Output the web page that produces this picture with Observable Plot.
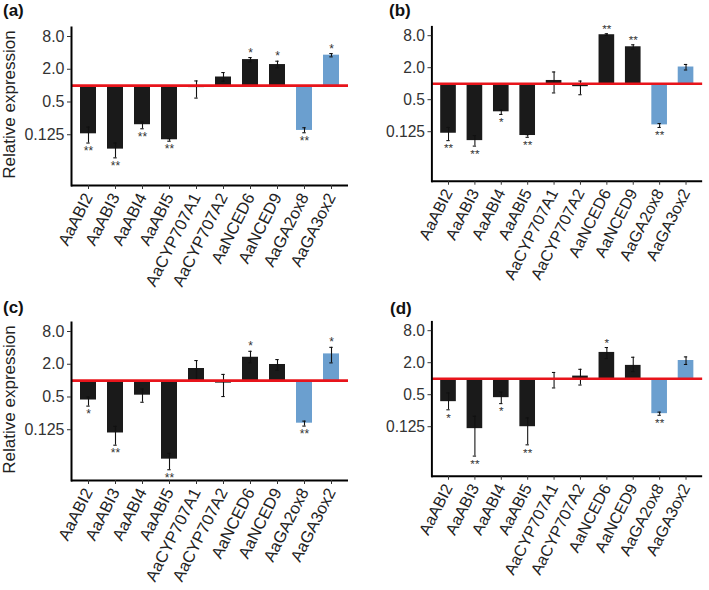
<!DOCTYPE html>
<html><head><meta charset="utf-8">
<script src="https://cdn.jsdelivr.net/npm/d3@7"></script>
<script src="https://cdn.jsdelivr.net/npm/@observablehq/plot@0.6"></script>
<style>
body{margin:0;background:#fff;}
#wrap{position:relative;width:709px;height:590px;overflow:hidden;font-family:"Liberation Sans",Arial,sans-serif;background:#fff;}
.panel{position:absolute;}
.letter{position:absolute;font-weight:bold;font-size:17px;color:#111;line-height:1;}
</style></head><body><div id="wrap"></div>
<script>
const genes = ["AaABI2","AaABI3","AaABI4","AaABI5","AaCYP707A1","AaCYP707A2","AaNCED6","AaNCED9","AaGA2ox8","AaGA3ox2"];
const groups = ["ABA","ABA","ABA","ABA","ABA","ABA","ABA","ABA","GA","GA"];
const yTicks = [0.125, 0.5, 2, 8];
const yTickLabels = ["0.125", "0.5", "2.0", "8.0"];
const yTitle = "Relative expression";

// Panel (a)
const valuesA = [0.130, 0.068, 0.191, 0.101, 0.92, 1.44, 3.01, 2.44, 0.150, 3.63];
const lowA    = [0.088, 0.047, 0.161, 0.095, 0.59, 1.20, 2.73, 2.12, 0.136, 3.38];
const highA   = [0.173, 0.088, 0.214, 0.106, 1.22, 1.74, 3.28, 2.81, 0.168, 3.89];
const starsA  = ["**","**","**","**","","","*","*","**","*"];

// Panel (b)
const valuesB = [0.117, 0.085, 0.296, 0.106, 1.15, 0.88, 8.34, 4.95, 0.168, 2.06];
const lowB    = [0.085, 0.067, 0.264, 0.098, 0.67, 0.62, 8.10, 4.48, 0.150, 1.81];
const highB   = [0.150, 0.106, 0.318, 0.110, 1.66, 1.12, 8.70, 5.39, 0.178, 2.30];
const starsB  = ["**","**","*","**","","","**","**","**",""];

// Panel (c)
const valuesC = [0.44, 0.109, 0.54, 0.036, 1.67, 0.90, 2.69, 1.98, 0.165, 3.10];
const lowC    = [0.34, 0.065, 0.40, 0.023, 1.01, 0.51, 2.12, 1.56, 0.146, 2.12];
const highC   = [0.50, 0.144, 0.70, 0.046, 2.34, 1.30, 3.46, 2.44, 0.180, 4.09];
const starsC  = ["*","**","","**","","","*","","**","*"];

// Panel (d)
const valuesD = [0.37, 0.115, 0.44, 0.125, 0.97, 1.12, 3.12, 1.78, 0.22, 2.20];
const lowD    = [0.26, 0.035, 0.34, 0.057, 0.67, 0.76, 2.39, 1.36, 0.205, 1.85];
const highD   = [0.54, 0.196, 0.56, 0.183, 1.31, 1.50, 3.86, 2.53, 0.235, 2.57];
const starsD  = ["*","**","*","**","","","*","","**",""];

const panels = [
  {letter:"(a)", values:valuesA, low:lowA, high:highA, stars:starsA, left:0,   top:0,   ylabel:true},
  {letter:"(b)", values:valuesB, low:lowB, high:highB, stars:starsB, left:362, top:0,   ylabel:false},
  {letter:"(c)", values:valuesC, low:lowC, high:highC, stars:starsC, left:0,   top:295, ylabel:true},
  {letter:"(d)", values:valuesD, low:lowD, high:highD, stars:starsD, left:362, top:295, ylabel:false}
];
const letterPos = [[3,2],[389,2],[3,299],[390,300]];

const wrap = document.getElementById("wrap");
const yMin = 2 ** -6.1, yMax = 2 ** 3.55;

panels.forEach((p, k) => {
  const data = genes.map((g, i) => ({gene:g, group:groups[i], value:p.values[i], lo:p.low[i], hi:p.high[i], star:p.stars[i]}));
  const up = data.filter(d => d.star && d.value >= 1);
  const down = data.filter(d => d.star && d.value < 1);
  const chart = Plot.plot({
    width: 355, height: 295,
    marginLeft: 71, marginRight: 7, marginTop: 27, marginBottom: 110,
    style: {fontFamily: "Liberation Sans, Arial, sans-serif", background: "transparent", color: "#333", overflow: "visible"},
    x: {type: "band", domain: genes, paddingInner: 0.4, paddingOuter: 0.31, label: null},
    y: {type: "log", base: 2, domain: [yMin, yMax], label: null},
    color: {domain: ["ABA", "GA"], range: ["#1a1a1a", "#6b9fcf"]},
    marks: [
      Plot.barY(data, {x: "gene", y1: d => 1, y2: "value", fill: "group"}),
      Plot.ruleX(data, {x: "gene", y1: "lo", y2: "hi", stroke: "#111", strokeWidth: 1.1}),
      Plot.tickY(data, {x: "gene", y: "lo", stroke: "#111", strokeWidth: 1.1, inset: 6.3}),
      Plot.tickY(data, {x: "gene", y: "hi", stroke: "#111", strokeWidth: 1.1, inset: 6.3}),
      Plot.ruleY([1], {stroke: "#e8141b", strokeWidth: 2.6}),
      Plot.text(up, {x: "gene", y: "hi", text: "star", fontSize: 12, lineAnchor: "bottom", dy: -1, fill: "#333"}),
      Plot.text(down, {x: "gene", y: "lo", text: "star", fontSize: 12, lineAnchor: "bottom", dy: 12, fill: "#333"}),
      Plot.ruleY([yMin], {stroke: "#000", strokeWidth: 2}),
      Plot.frame({anchor: "left", stroke: "#000", strokeWidth: 2}),
      Plot.axisY({ticks: yTicks, tickFormat: d => yTickLabels[yTicks.indexOf(d)], fontSize: 16, tickSize: 4, tickPadding: 3, label: null, fill: "#333"}),
      Plot.axisX({tickRotate: -63, fontSize: 16.5, tickSize: 4, tickPadding: 5, label: null, fill: "#222"}),
      ...(p.ylabel ? [Plot.text([yTitle], {frameAnchor: "left", text: d => d, rotate: -90, textAnchor: "middle", lineAnchor: "middle", dx: -62, dy: -2, fontSize: 17, fill: "#222"})] : [])
    ]
  });
  const div = document.createElement("div");
  div.className = "panel";
  div.style.left = p.left + "px";
  div.style.top = p.top + "px";
  div.appendChild(chart);
  wrap.appendChild(div);
  const lab = document.createElement("div");
  lab.className = "letter";
  lab.textContent = p.letter;
  lab.style.left = letterPos[k][0] + "px";
  lab.style.top = letterPos[k][1] + "px";
  wrap.appendChild(lab);
});
</script></body></html>
